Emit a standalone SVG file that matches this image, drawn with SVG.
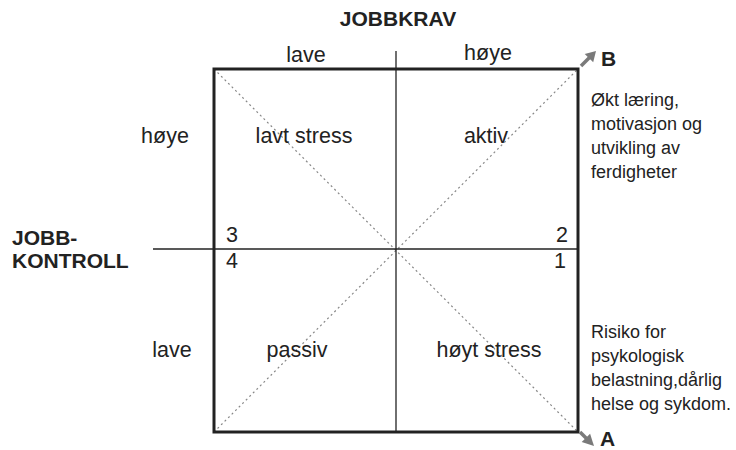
<svg xmlns="http://www.w3.org/2000/svg" width="736" height="450" viewBox="0 0 736 450">
  <style>
    text { font-family: "Liberation Sans", Arial, sans-serif; fill: #222; }
    .lbl { font-size: 21.5px; }
    .hdr { font-size: 21px; font-weight: bold; }
    .note { font-size: 18px; }
    .frame { fill: none; stroke: #222; stroke-width: 3; }
    .axis { stroke: #222; stroke-width: 1.3; fill: none; }
    .diag { stroke: #888; stroke-width: 1.2; stroke-dasharray: 2 3; fill: none; }
    .arr { stroke: #7a7a7a; stroke-width: 3.5; fill: none; }
    .tip { fill: #7a7a7a; stroke: none; }
  </style>
  <rect width="736" height="450" fill="#fff"/>

  <!-- square, axes, diagonals and the two outcome arrows -->
  <g id="connectors">
    <line class="diag" x1="214" y1="69" x2="578" y2="432"/>
    <line class="diag" x1="214" y1="432" x2="578" y2="69"/>
    <line class="axis" x1="396" y1="51" x2="396" y2="432"/>
    <line class="axis" x1="153" y1="249" x2="578" y2="249"/>
    <rect class="frame" x="214" y="69" width="364" height="363"/>
    <line class="arr" x1="581" y1="66" x2="590" y2="57"/>
    <polygon class="tip" points="596,51 593.2,62.3 584.7,53.9"/>
    <line class="arr" x1="580" y1="432" x2="588" y2="440"/>
    <polygon class="tip" points="594,446 590.1,433.7 581.7,442.1"/>
  </g>

  <!-- axis titles -->
  <g id="jobbkrav">
    <text class="hdr" x="398" y="26" text-anchor="middle">JOBBKRAV</text>
    <text class="lbl" x="306" y="62" text-anchor="middle">lave</text>
    <text class="lbl" x="488" y="60" text-anchor="middle">høye</text>
  </g>
  <g id="jobbkontroll">
    <text class="hdr" x="12" y="245">JOBB-</text>
    <text class="hdr" x="12" y="268">KONTROLL</text>
    <text class="lbl" x="165" y="143" text-anchor="middle">høye</text>
    <text class="lbl" x="172" y="357" text-anchor="middle">lave</text>
  </g>

  <!-- quadrants -->
  <g id="q-lavt-stress">
    <text class="lbl" x="304" y="143" text-anchor="middle">lavt stress</text>
    <text class="lbl" x="232" y="242" text-anchor="middle">3</text>
  </g>
  <g id="q-aktiv">
    <text class="lbl" x="486" y="143" text-anchor="middle">aktiv</text>
    <text class="lbl" x="562" y="242" text-anchor="middle">2</text>
  </g>
  <g id="q-passiv">
    <text class="lbl" x="297" y="357" text-anchor="middle">passiv</text>
    <text class="lbl" x="232" y="268" text-anchor="middle">4</text>
  </g>
  <g id="q-hoyt-stress">
    <text class="lbl" x="489" y="357" text-anchor="middle">høyt stress</text>
    <text class="lbl" x="560" y="268" text-anchor="middle">1</text>
  </g>

  <!-- outcomes -->
  <g id="outcome-b">
    <text class="hdr" x="601" y="66">B</text>
    <text class="note" x="591" y="106">Økt læring,</text>
    <text class="note" x="591" y="130">motivasjon og</text>
    <text class="note" x="591" y="154">utvikling av</text>
    <text class="note" x="591" y="178">ferdigheter</text>
  </g>
  <g id="outcome-a">
    <text class="hdr" x="600" y="446">A</text>
    <text class="note" x="591" y="338">Risiko for</text>
    <text class="note" x="591" y="362">psykologisk</text>
    <text class="note" x="591" y="386">belastning,dårlig</text>
    <text class="note" x="591" y="410">helse og sykdom.</text>
  </g>
</svg>
